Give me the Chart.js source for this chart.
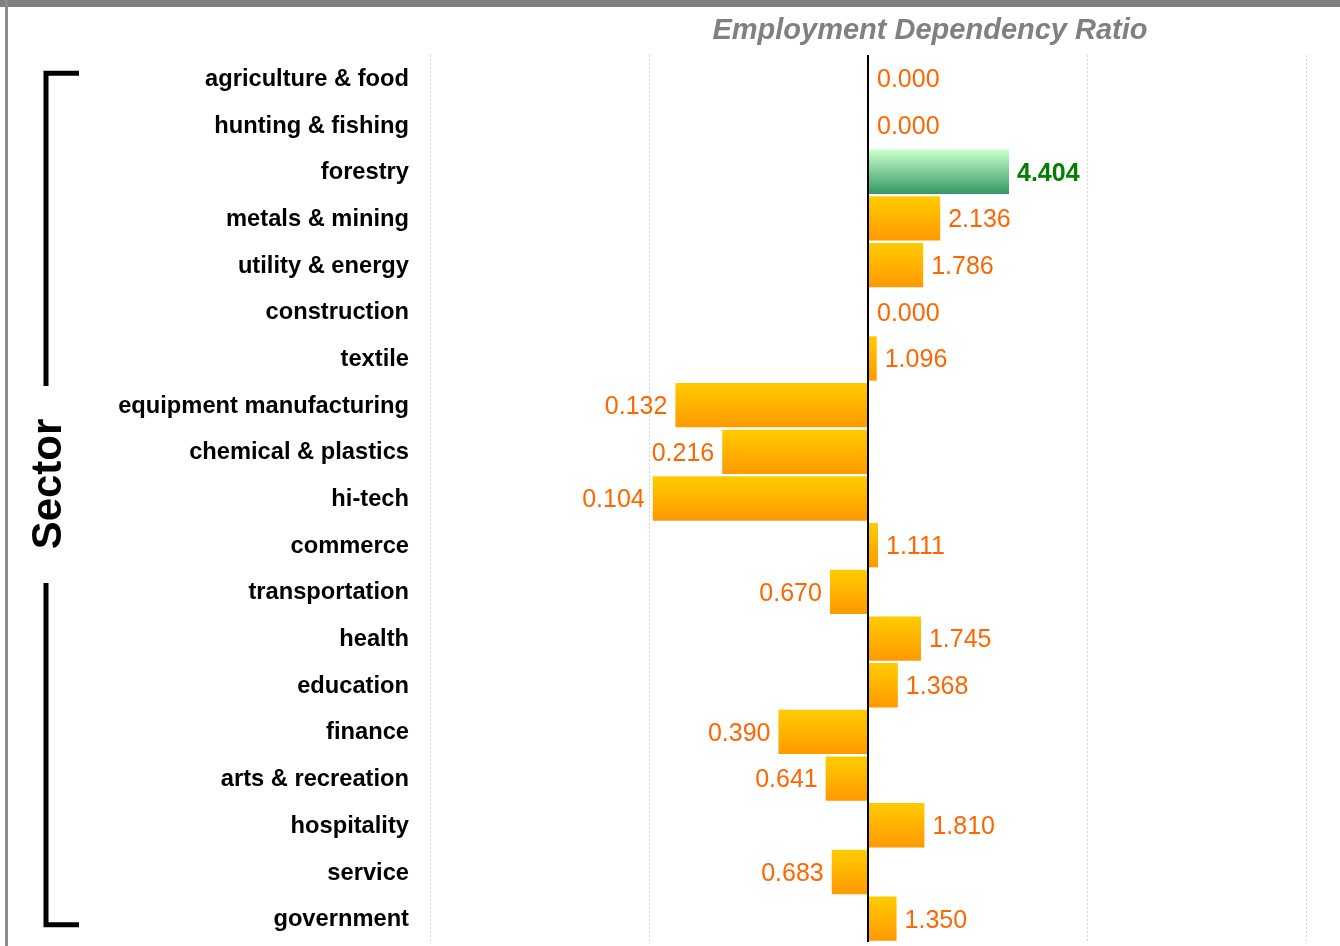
<!DOCTYPE html>
<html>
<head>
<meta charset="utf-8">
<title>Employment Dependency Ratio</title>
<script src="https://cdn.jsdelivr.net/npm/chart.js@4"></script>
<style>
  html, body { margin: 0; padding: 0; background: #fff; }
  #wrap { width: 1340px; height: 946px; position: relative; }
</style>
</head>
<body>
<div id="wrap"><canvas id="chart" width="1340" height="946"></canvas></div>
<script>
//Sectors, top to bottom
const categories = [
    'agriculture & food',
    'hunting & fishing',
    'forestry',
    'metals & mining',
    'utility & energy',
    'construction',
    'textile',
    'equipment manufacturing',
    'chemical & plastics',
    'hi-tech',
    'commerce',
    'transportation',
    'health',
    'education',
    'finance',
    'arts & recreation',
    'hospitality',
    'service',
    'government'
];

//Dependency ratio per sector
const ratios = [
    0.000, 0.000, 4.404, 2.136, 1.786, 0.000, 1.096, 0.132, 0.216, 0.104,
    1.111, 0.670, 1.745, 1.368, 0.390, 0.641, 1.810, 0.683, 1.350
];

//Log axis gridlines
const gridTicks = [0.01, 0.1, 1, 10, 100];

const highlight = 'forestry';
const baseline = 1;

//Bars float from 1 out to the ratio (zero has no bar on a log axis)
const bars = ratios.map(v => v > 0 ? [baseline, v] : null);

const BAR_PCT = 0.95;
const FONT = '"Liberation Sans", Arial, sans-serif';

function barFill(context) {
    const chart = context.chart;
    const y = chart.scales.y;
    const hot = categories[context.dataIndex] == highlight;
    const flat = hot ? '#66bb88' : '#ffb300';
    if (!y || context.type !== 'data') return flat;
    const c = y.getPixelForValue(context.dataIndex);
    const h = (y.bottom - y.top) / categories.length * BAR_PCT;
    if (!isFinite(c) || !isFinite(h) || h <= 0) return flat;
    const g = chart.ctx.createLinearGradient(0, c - h / 2, 0, c + h / 2);
    if (hot) {
        g.addColorStop(0, '#ccffcc');
        g.addColorStop(1, '#339966');
    } else {
        g.addColorStop(0, '#ffcc00');
        g.addColorStop(1, '#ff9900');
    }
    return g;
}

//Frame, title, axis bracket, centre line, value labels
const decorations = {
    id: 'decorations',
    beforeDraw(chart) {
        const ctx = chart.ctx;
        ctx.save();
        ctx.fillStyle = '#808080';
        ctx.fillRect(0, 0, chart.width, 7);
        ctx.fillStyle = '#8c8c8c';
        ctx.fillRect(5, 0, 3, chart.height);

        ctx.fillStyle = '#808080';
        ctx.font = 'italic bold 29px ' + FONT;
        ctx.textAlign = 'center';
        ctx.textBaseline = 'middle';
        ctx.fillText('Employment Dependency Ratio', 930, 31);
        ctx.restore();
    },
    afterDatasetsDraw(chart) {
        const ctx = chart.ctx;
        const x = chart.scales.x;
        const y = chart.scales.y;
        const x1 = x.getPixelForValue(baseline);

        ctx.save();

        //Centre line at ratio 1
        ctx.strokeStyle = '#000';
        ctx.lineWidth = 2;
        ctx.beginPath();
        ctx.moveTo(x1, y.top);
        ctx.lineTo(x1, y.bottom);
        ctx.stroke();

        //Bracket and axis title
        const top = y.getPixelForValue(0) - 5;
        const bottom = y.getPixelForValue(categories.length - 1) + 6;
        const mid = 484;
        ctx.strokeStyle = '#000';
        ctx.lineWidth = 5;
        ctx.lineCap = 'butt';
        ctx.beginPath();
        ctx.moveTo(79, top);
        ctx.lineTo(46, top);
        ctx.lineTo(46, 386);
        ctx.moveTo(46, 583);
        ctx.lineTo(46, bottom);
        ctx.lineTo(79, bottom);
        ctx.stroke();

        ctx.translate(47, mid);
        ctx.rotate(-Math.PI / 2);
        ctx.fillStyle = '#000';
        ctx.font = 'bold 42px ' + FONT;
        ctx.textAlign = 'center';
        ctx.textBaseline = 'middle';
        ctx.fillText('Sector', 0, 2);
        ctx.setTransform(1, 0, 0, 1, 0, 0);

        //Value labels
        ctx.textBaseline = 'middle';
        for (let i = 0; i < ratios.length; i++) {
            const v = ratios[i];
            const cy = y.getPixelForValue(i) + 2;
            const hot = categories[i] == highlight;
            ctx.font = (hot ? 'bold ' : '') + '25px ' + FONT;
            ctx.fillStyle = hot ? '#008000' : '#ff6600';
            const txt = v.toFixed(3);
            if (v <= 0) {
                ctx.textAlign = 'left';
                ctx.fillText(txt, x1 + 9, cy);
            } else if (v >= baseline) {
                ctx.textAlign = 'left';
                ctx.fillText(txt, x.getPixelForValue(v) + 8, cy);
            } else {
                ctx.textAlign = 'right';
                ctx.fillText(txt, x.getPixelForValue(v) - 8, cy);
            }
        }
        ctx.restore();
    }
};

new Chart(document.getElementById('chart'), {
    type: 'bar',
    data: {
        labels: categories,
        datasets: [{
            data: bars,
            backgroundColor: barFill,
            borderWidth: 0,
            barPercentage: BAR_PCT,
            categoryPercentage: 1.0
        }]
    },
    options: {
        indexAxis: 'y',
        responsive: false,
        animation: false,
        layout: {
            padding: { top: 55, right: 34, bottom: 4, left: 0 }
        },
        plugins: {
            legend: { display: false },
            title: { display: false },
            tooltip: { enabled: false }
        },
        scales: {
            x: {
                type: 'logarithmic',
                min: 0.01,
                max: 100,
                afterBuildTicks: (scale) => {
                    scale.ticks = gridTicks.map(v => ({ value: v }));
                },
                afterFit: (scale) => {
                    scale.height = 0;
                    scale.paddingLeft = 0;
                    scale.paddingRight = 0;
                },
                ticks: { display: false },
                grid: {
                    color: '#d4d4d4',
                    lineWidth: 1,
                    drawTicks: false
                },
                border: { display: false, dash: [2, 2] }
            },
            y: {
                afterFit: (scale) => {
                    scale.width = 430;
                    scale.paddingTop = 0;
                    scale.paddingBottom = 0;
                },
                ticks: {
                    color: '#000',
                    padding: 21,
                    labelOffset: 1,
                    font: { family: FONT, size: 23.7, weight: 'bold' }
                },
                grid: { display: false, drawTicks: false },
                border: { display: false }
            }
        }
    },
    plugins: [decorations]
});
</script>
</body>
</html>
